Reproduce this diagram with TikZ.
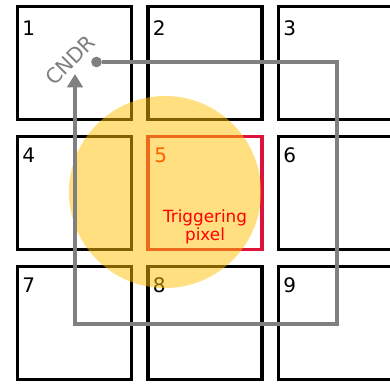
\documentclass[tikz,border=0pt]{standalone}
\usepackage{fontspec}
\setmainfont{DejaVu Sans}
\usepackage{tikz}
\usetikzlibrary{positioning,arrows.meta,calc}

\definecolor{cndrgray}{RGB}{128,128,128}
\definecolor{spotyellow}{RGB}{255,192,0}
\definecolor{pixred}{RGB}{220,20,60}

\begin{document}
\begin{tikzpicture}[
        x=0.75pt,y=-0.75pt,
        node distance=13pt,
        pixel/.style={rectangle,draw=black,line width=2.6pt,minimum width=85.5pt,minimum height=84.5pt,inner sep=0,outer sep=0},
        num/.style={anchor=north west,inner sep=0,font=\fontsize{15}{18}\selectfont},
        spot/.style={circle,fill=spotyellow,fill opacity=0.5,minimum size=144pt,inner sep=0},
        dot/.style={circle,fill=cndrgray,minimum size=8pt,inner sep=0},
        feedback/.style={draw=cndrgray,line width=2.4pt,-{Triangle[length=10pt,width=11.5pt]}},
      ]
      \clip (0,0) rectangle (390,386);

      % 3x3 pixel grid
      \node[pixel] (b1) at (74.5,63) {};
      \node[pixel,right=12.4pt of b1] (b2) {};
      \node[pixel,right=12.4pt of b2] (b3) {};
      \node[pixel,below=of b1] (b4) {};
      \node[pixel,draw=pixred,right=12.4pt of b4] (b5) {};
      \node[pixel,right=12.4pt of b5] (b6) {};
      \node[pixel,below=of b4] (b7) {};
      \node[pixel,right=12.4pt of b7] (b8) {};
      \node[pixel,right=12.4pt of b8] (b9) {};

      \node[num] (n1) at ([shift={(4.5,13.5)}]b1.north west) {1};
      \node[num] (n2) at ([shift={(4.5,13.5)}]b2.north west) {2};
      \node[num] (n3) at ([shift={(4.5,13.5)}]b3.north west) {3};
      \node[num] (n4) at ([shift={(4.5,11)}]b4.north west) {4};
      \node[num,text=red] (n5) at ([shift={(6,11)}]b5.north west) {5};
      \node[num] (n6) at ([shift={(4.5,11)}]b6.north west) {6};
      \node[num] (n7) at ([shift={(4.5,11)}]b7.north west) {7};
      \node[num] (n8) at ([shift={(4.5,11)}]b8.north west) {8};
      \node[num] (n9) at ([shift={(4.5,11)}]b9.north west) {9};

      % charge spread
      \node[spot] (spot) at (165,192) {};

      % CNDR loop
      \node[dot] (cndr) at (96.5,62) {};
      \node[text=cndrgray,rotate=45,font=\fontsize{15.5}{18}\selectfont] (lbl) at (70,60) {CNDR};
      \coordinate (turn) at (337,324);
      \coordinate (tip) at (75,74);
      \draw[feedback] (cndr) -| (turn) -| (tip);

      \node[text=red,align=center,font=\fontsize{12.6}{13}\selectfont] (trig) at ($(b5.center)+(0,34)$) {Triggering\\pixel};
    \end{tikzpicture}
\end{document}
